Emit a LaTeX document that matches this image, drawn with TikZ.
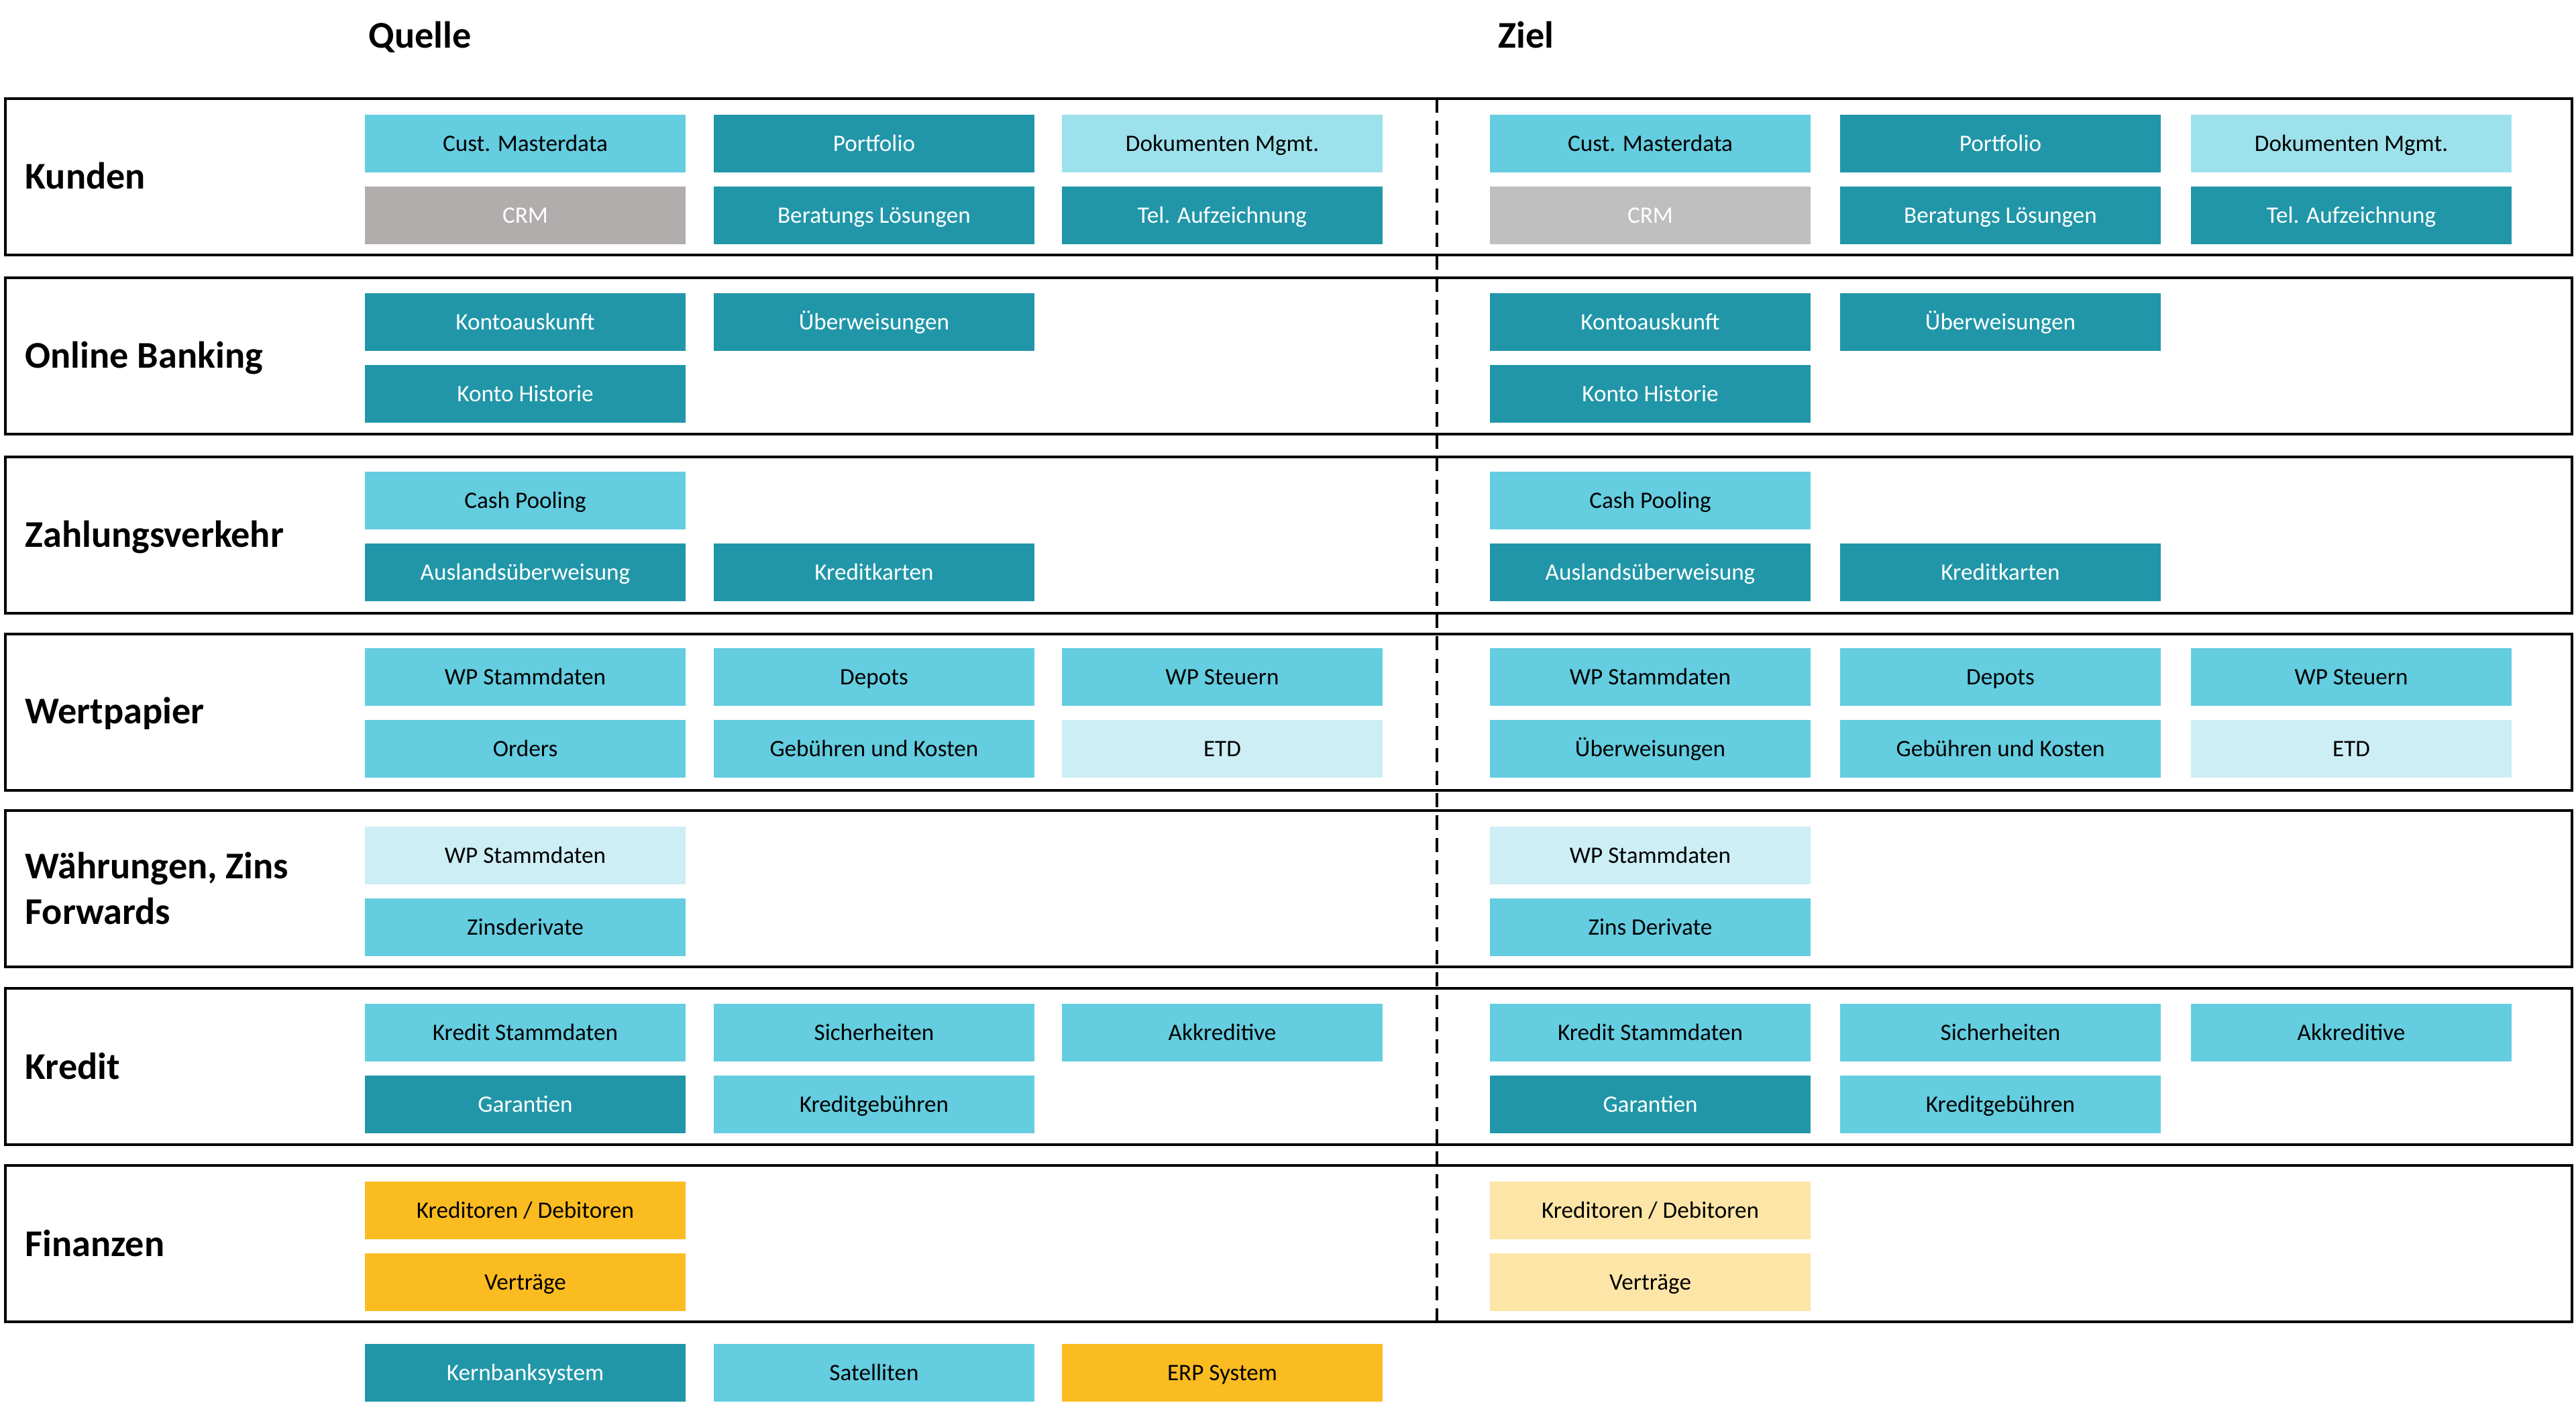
\documentclass[tikz,border=0pt]{standalone}
\usepackage{fontspec}
\setmainfont{Carlito}
\definecolor{tealdark}{HTML}{2196A8}
\definecolor{cyanmid}{HTML}{64CDE0}
\definecolor{cyansky}{HTML}{9DE1EC}
\definecolor{cyanpale}{HTML}{CCEEF4}
\definecolor{greywarm}{HTML}{B0ADAC}
\definecolor{greysilver}{HTML}{BFBFBF}
\definecolor{goldfull}{HTML}{FBBC22}
\definecolor{goldpale}{HTML}{FDE5A7}
\begin{document}
\begin{tikzpicture}[x=1cm, y=-1cm,
	box/.style={shape=rectangle, minimum width=4.78cm, minimum height=0.86cm, inner sep=0pt, text height=8.6pt, text depth=2pt, font=\fontsize{10}{12}\selectfont},
	tealbox/.style={box, fill=tealdark, text=white},
	cyanbox/.style={box, fill=cyanmid},
	skybox/.style={box, fill=cyansky},
	palebox/.style={box, fill=cyanpale},
	greybox/.style={box, fill=greywarm, text=white},
	silverbox/.style={box, fill=greysilver, text=white},
	goldbox/.style={box, fill=goldfull},
	creambox/.style={box, fill=goldpale},
	band/.style={shape=rectangle, draw, line width=1.2pt, minimum width=38.26cm, minimum height=2.33cm, inner sep=0pt},
	bandlabel/.style={anchor=base west, inner sep=0pt, font=\bfseries\fontsize{16}{19.5}\selectfont},
	title/.style={anchor=base west, inner sep=0pt, font=\bfseries\fontsize{16}{19.5}\selectfont}]
	\useasboundingbox (0,0) rectangle (38.4,20.94);
	% Titles and bands:
	\node[title] (quelle) at (5.49,0.72) {Quelle};
	\node[title] (ziel) at (22.33,0.72) {Ziel};
	\node[band] (kunden) at (19.21,2.635) {};
	\node[band] (online) at (19.21,5.305) {};
	\node[band] (zahlung) at (19.21,7.975) {};
	\node[band] (wertpapier) at (19.21,10.615) {};
	\node[band] (waehrung) at (19.21,13.245) {};
	\node[band] (kredit) at (19.21,15.895) {};
	\node[band] (finanzen) at (19.21,18.535) {};
	\node[bandlabel] (kundenL) at (0.37,2.82) {Kunden};
	\node[bandlabel] (onlineL) at (0.37,5.49) {Online Banking};
	\node[bandlabel] (zahlungL) at (0.37,8.16) {Zahlungsverkehr};
	\node[bandlabel] (wertpapierL) at (0.37,10.79) {Wertpapier};
	\node[anchor=west, align=left, inner sep=0pt, font=\bfseries\fontsize{16}{19.5}\selectfont] (waehrungL) at (0.37,13.24) {Währungen, Zins\\Forwards};
	\node[bandlabel] (kreditL) at (0.37,16.08) {Kredit};
	\node[bandlabel] (finanzenL) at (0.37,18.72) {Finanzen};
	\coordinate (dtop) at (21.42,1.47);
	\coordinate (dbot) at (21.42,19.70);
	\draw[line width=0.9pt, dash pattern={on 6pt off 3.5pt}] (dtop) -- (dbot);
	% Quelle:
	\node[cyanbox] (qCust) at (7.83,2.14) {Cust. Masterdata};
	\node[tealbox] (qPortfolio) at (13.03,2.14) {Portfolio};
	\node[skybox] (qDoku) at (18.22,2.14) {Dokumenten Mgmt.};
	\node[greybox] (qCrm) at (7.83,3.21) {CRM};
	\node[tealbox] (qBeratung) at (13.03,3.21) {Beratungs Lösungen};
	\node[tealbox] (qTel) at (18.22,3.21) {Tel. Aufzeichnung};
	\node[tealbox] (qKonto) at (7.83,4.80) {Kontoauskunft};
	\node[tealbox] (qUeber) at (13.03,4.80) {Überweisungen};
	\node[tealbox] (qHistorie) at (7.83,5.87) {Konto Historie};
	\node[cyanbox] (qCash) at (7.83,7.46) {Cash Pooling};
	\node[tealbox] (qAusland) at (7.83,8.53) {Auslandsüberweisung};
	\node[tealbox] (qKarten) at (13.03,8.53) {Kreditkarten};
	\node[cyanbox] (qWpStamm) at (7.83,10.09) {WP Stammdaten};
	\node[cyanbox] (qDepots) at (13.03,10.09) {Depots};
	\node[cyanbox] (qSteuern) at (18.22,10.09) {WP Steuern};
	\node[cyanbox] (qOrders) at (7.83,11.16) {Orders};
	\node[cyanbox] (qGebuehr) at (13.03,11.16) {Gebühren und Kosten};
	\node[palebox] (qEtd) at (18.22,11.16) {ETD};
	\node[palebox] (qFxStamm) at (7.83,12.75) {WP Stammdaten};
	\node[cyanbox] (qZins) at (7.83,13.82) {Zinsderivate};
	\node[cyanbox] (qKrStamm) at (7.83,15.39) {Kredit Stammdaten};
	\node[cyanbox] (qSicher) at (13.03,15.39) {Sicherheiten};
	\node[cyanbox] (qAkkred) at (18.22,15.39) {Akkreditive};
	\node[tealbox] (qGarant) at (7.83,16.46) {Garantien};
	\node[cyanbox] (qKrGebuehr) at (13.03,16.46) {Kreditgebühren};
	\node[goldbox] (qKredDeb) at (7.83,18.04) {Kreditoren / Debitoren};
	\node[goldbox] (qVertrag) at (7.83,19.11) {Verträge};
	% Ziel:
	\node[cyanbox] (zCust) at (24.60,2.14) {Cust. Masterdata};
	\node[tealbox] (zPortfolio) at (29.82,2.14) {Portfolio};
	\node[skybox] (zDoku) at (35.05,2.14) {Dokumenten Mgmt.};
	\node[silverbox] (zCrm) at (24.60,3.21) {CRM};
	\node[tealbox] (zBeratung) at (29.82,3.21) {Beratungs Lösungen};
	\node[tealbox] (zTel) at (35.05,3.21) {Tel. Aufzeichnung};
	\node[tealbox] (zKonto) at (24.60,4.80) {Kontoauskunft};
	\node[tealbox] (zUeber) at (29.82,4.80) {Überweisungen};
	\node[tealbox] (zHistorie) at (24.60,5.87) {Konto Historie};
	\node[cyanbox] (zCash) at (24.60,7.46) {Cash Pooling};
	\node[tealbox] (zAusland) at (24.60,8.53) {Auslandsüberweisung};
	\node[tealbox] (zKarten) at (29.82,8.53) {Kreditkarten};
	\node[cyanbox] (zWpStamm) at (24.60,10.09) {WP Stammdaten};
	\node[cyanbox] (zDepots) at (29.82,10.09) {Depots};
	\node[cyanbox] (zSteuern) at (35.05,10.09) {WP Steuern};
	\node[cyanbox] (zUeberWp) at (24.60,11.16) {Überweisungen};
	\node[cyanbox] (zGebuehr) at (29.82,11.16) {Gebühren und Kosten};
	\node[palebox] (zEtd) at (35.05,11.16) {ETD};
	\node[palebox] (zFxStamm) at (24.60,12.75) {WP Stammdaten};
	\node[cyanbox] (zZins) at (24.60,13.82) {Zins Derivate};
	\node[cyanbox] (zKrStamm) at (24.60,15.39) {Kredit Stammdaten};
	\node[cyanbox] (zSicher) at (29.82,15.39) {Sicherheiten};
	\node[cyanbox] (zAkkred) at (35.05,15.39) {Akkreditive};
	\node[tealbox] (zGarant) at (24.60,16.46) {Garantien};
	\node[cyanbox] (zKrGebuehr) at (29.82,16.46) {Kreditgebühren};
	\node[creambox] (zKredDeb) at (24.60,18.04) {Kreditoren / Debitoren};
	\node[creambox] (zVertrag) at (24.60,19.11) {Verträge};
	% Legend:
	\node[tealbox] (legKern) at (7.83,20.46) {Kernbanksystem};
	\node[cyanbox] (legSat) at (13.03,20.46) {Satelliten};
	\node[goldbox] (legErp) at (18.22,20.46) {ERP System};
\end{tikzpicture}
\end{document}
